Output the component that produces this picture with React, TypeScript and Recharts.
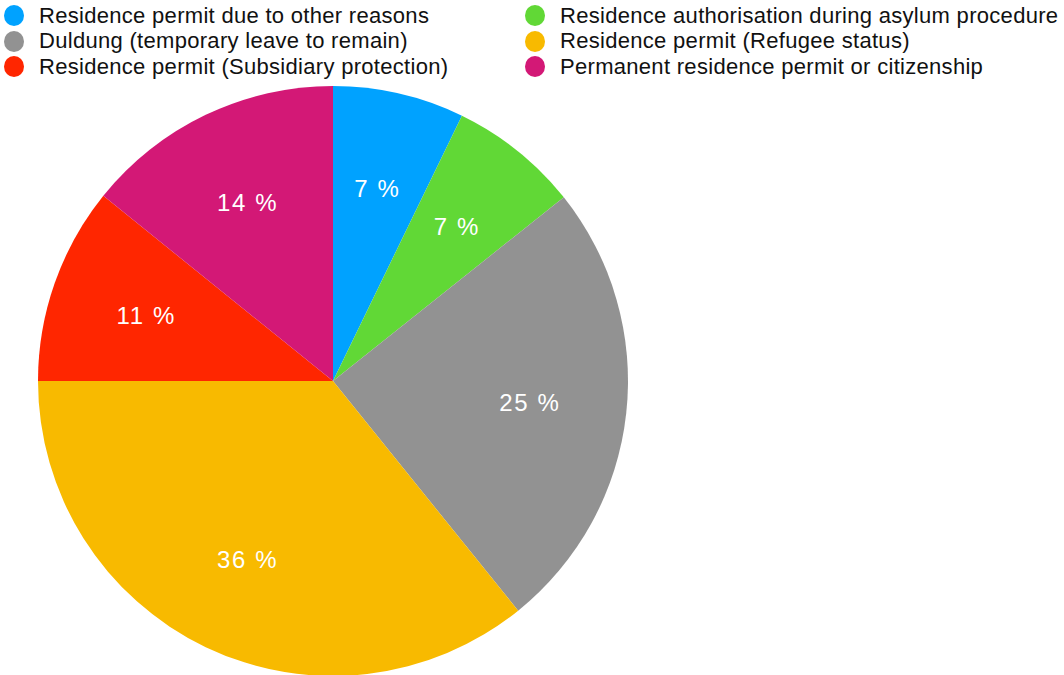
import { PieChart, Pie, Cell, Legend } from 'recharts'

document.body.style.margin = '0'

const categories = [
  'Residence permit due to other reasons',
  'Residence authorisation during asylum procedure',
  'Duldung (temporary leave to remain)',
  'Residence permit (Refugee status)',
  'Residence permit (Subsidiary protection)',
  'Permanent residence permit or citizenship',
]
const shares = [7.2, 7.1, 24.9, 35.8, 10.8, 14.2]
const colors = ['#00a2ff', '#61d836', '#929292', '#f8ba00', '#ff2600', '#d31876']

const FONT = '"Liberation Sans", Arial, Helvetica, sans-serif'
const RADIAN = Math.PI / 180

const data = categories.map((name, i) => ({ name, value: shares[i], color: colors[i] }))

function SliceLabel(props: any) {
  const { cx, cy, midAngle, value } = props
  const r = 198
  const x = cx + r * Math.cos(-midAngle * RADIAN)
  const y = cy + r * Math.sin(-midAngle * RADIAN)
  return (
    <text x={x} y={y} fill="#fff" fontSize={24} fontFamily={FONT} textAnchor="middle" dominantBaseline="central" letterSpacing={1.6}>
      {Math.round(value)} %
    </text>
  )
}

function LegendGrid() {
  return (
    <div style={{ display: 'grid', gridTemplateColumns: '521px 540px', fontFamily: FONT, fontSize: 22, letterSpacing: 0.3, color: '#111' }}>
      {data.map((d) => (
        <div key={d.name} style={{ display: 'flex', alignItems: 'center', height: 25.5, whiteSpace: 'nowrap' }}>
          <span style={{ width: 20, height: 21, borderRadius: '50%', background: d.color, display: 'inline-block', marginRight: 15, flexShrink: 0 }} />
          <span>{d.name}</span>
        </div>
      ))}
    </div>
  )
}

export default function App() {
  return (
    <PieChart width={1064} height={675} margin={{ top: 0, right: 0, bottom: 0, left: 0 }}>
      <Legend
        layout="vertical"
        align="center"
        verticalAlign="middle"
        content={<LegendGrid />}
        wrapperStyle={{ top: 3, left: 4, width: 1060 }}
      />
      <Pie
        data={data}
        dataKey="value"
        nameKey="name"
        cx={333}
        cy={381}
        outerRadius={295}
        startAngle={90}
        endAngle={-270}
        stroke="none"
        label={SliceLabel}
        labelLine={false}
        isAnimationActive={false}
      >
        {data.map((entry) => <Cell key={entry.name} fill={entry.color} />)}
      </Pie>
    </PieChart>
  )
}
